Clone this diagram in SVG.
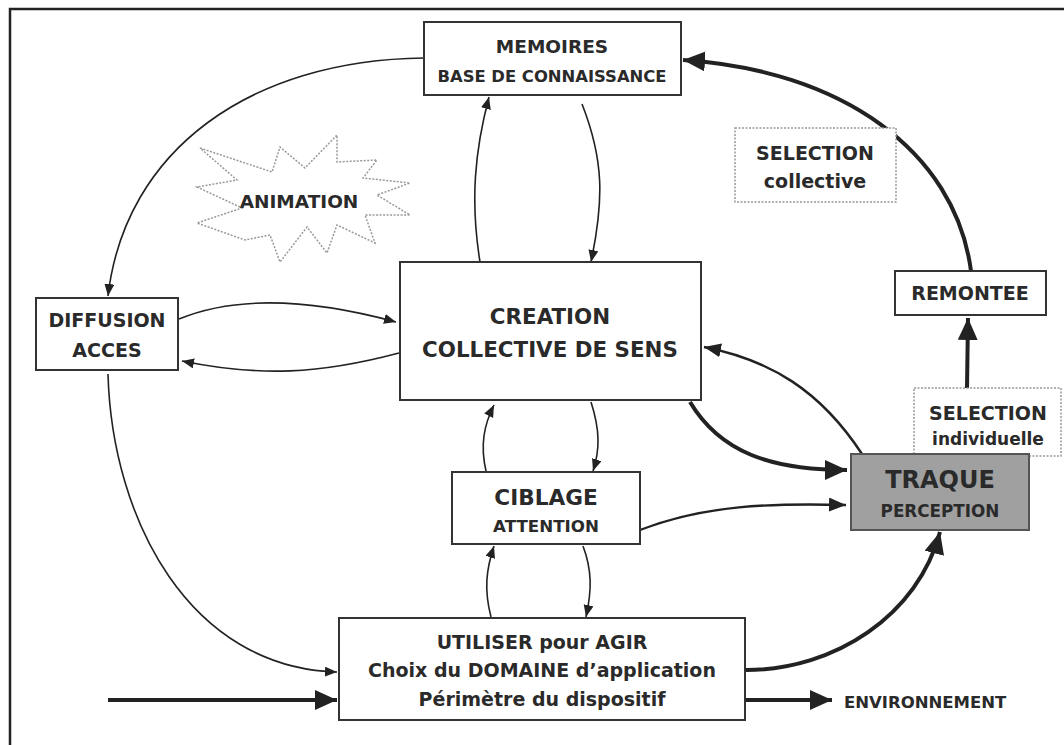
<svg xmlns="http://www.w3.org/2000/svg" width="1064" height="745" viewBox="0 0 1064 745">
<defs>
<style>
.box{fill:#fff;stroke:#333;stroke-width:2}
.dot{fill:#fff;stroke:#999;stroke-width:1.5;stroke-dasharray:2 1.5}
.t{font-family:"DejaVu Sans","Open Sans",sans-serif;font-weight:bold;fill:#2a2a2a;text-anchor:middle}
.thin{fill:none;stroke:#222;stroke-width:1.6;marker-end:url(#a)}
.med{fill:none;stroke:#222;stroke-width:2.4;marker-end:url(#a2)}
.thick{fill:none;stroke:#222;stroke-width:4;marker-end:url(#a3)}
</style>
<marker id="a" markerUnits="userSpaceOnUse" markerWidth="14" markerHeight="12" refX="12" refY="5" orient="auto"><path d="M0,0 L12,5 L0,10 Z" fill="#222"/></marker>
<marker id="a2" markerUnits="userSpaceOnUse" markerWidth="18" markerHeight="16" refX="17" refY="7" orient="auto"><path d="M0,0 L17,7 L0,14 Z" fill="#222"/></marker>
<marker id="a3" markerUnits="userSpaceOnUse" markerWidth="24" markerHeight="22" refX="22" refY="10" orient="auto"><path d="M0,0 L22,10 L0,20 Z" fill="#222"/></marker>
</defs>
<rect width="1064" height="745" fill="#fff"/>
<path d="M10,760 L10,9 L1070,9" fill="none" stroke="#222" stroke-width="2.5"/>

<g id="connectors">
<path class="thin" d="M424,58 C250,60 125,150 108,296"/>
<path class="thin" d="M179,319 C230,298 300,296 396,322"/>
<path class="thin" d="M399,353 C320,374 260,377 182,361"/>
<path class="thin" d="M582,104 C604,160 604,200 591,262"/>
<path class="thin" d="M480,262 C470,200 475,150 489,97"/>
<path class="thick" d="M971,271 C955,150 840,70 683,60"/>
<path class="thick" d="M967,388 L968,318"/>
<path class="thick" d="M690,402 C720,452 770,470 847,470"/>
<path class="med" d="M862,454 C820,390 770,360 704,347"/>
<path class="thin" d="M591,402 C600,430 600,450 593,471"/>
<path class="thin" d="M486,471 C480,445 484,425 494,405"/>
<path class="med" d="M640,530 C705,505 770,503 846,505"/>
<path class="thin" d="M491,617 C484,590 486,570 494,546"/>
<path class="thin" d="M583,546 C592,570 592,590 586,617"/>
<path class="thin" d="M108,374 C112,520 190,668 337,672"/>
<path class="thick" d="M108,700 L337,700"/>
<path class="thick" d="M746,670 C835,670 918,615 940,532"/>
<path class="thick" d="M746,700 L832,700"/>
</g>

<g id="animation">
<polygon points="200,148 272,172 280,147 305,168 337,135 337,162 377,160 363,178 410,183 377,195 410,215 365,215 375,243 337,225 327,253 307,227 280,262 270,235 245,240 197,223 242,208 197,187 237,180" fill="#fff" stroke="#999" stroke-width="1.5" stroke-dasharray="2 1.5"/>
<text class="t" x="299" y="208" font-size="18.5">ANIMATION</text>
</g>

<g id="memoires">
<rect class="box" x="424" y="22" width="257" height="73"/>
<text class="t" x="552" y="53" font-size="18.5">MEMOIRES</text>
<text class="t" x="552" y="82" font-size="16.4">BASE DE CONNAISSANCE</text>
</g>

<g id="selection-collective">
<rect class="dot" x="735" y="128" width="161" height="74"/>
<text class="t" x="815" y="160" font-size="19">SELECTION</text>
<text class="t" x="815" y="188" font-size="19">collective</text>
</g>

<g id="diffusion">
<rect class="box" x="36" y="298" width="142" height="72"/>
<text class="t" x="107" y="327" font-size="19">DIFFUSION</text>
<text class="t" x="107" y="357" font-size="19">ACCES</text>
</g>

<g id="creation">
<rect class="box" x="400" y="262" width="301" height="138"/>
<text class="t" x="550" y="324" font-size="21.4">CREATION</text>
<text class="t" x="550" y="357" font-size="21.4">COLLECTIVE DE SENS</text>
</g>

<g id="remontee">
<rect class="box" x="895" y="271" width="151" height="44"/>
<text class="t" x="970" y="300" font-size="19">REMONTEE</text>
</g>

<g id="selection-individuelle">
<rect class="dot" x="914" y="388" width="147" height="68"/>
<text class="t" x="988" y="420" font-size="19">SELECTION</text>
<text class="t" x="988" y="445" font-size="17">individuelle</text>
</g>

<g id="traque">
<rect x="851" y="454" width="178" height="76" fill="#a0a0a0" stroke="#555" stroke-width="2"/>
<text class="t" x="940" y="488" font-size="24">TRAQUE</text>
<text class="t" x="940" y="517" font-size="16.8">PERCEPTION</text>
</g>

<g id="ciblage">
<rect class="box" x="452" y="472" width="188" height="72"/>
<text class="t" x="546" y="505" font-size="21.6">CIBLAGE</text>
<text class="t" x="546" y="532" font-size="16.7">ATTENTION</text>
</g>

<g id="utiliser">
<rect class="box" x="339" y="618" width="406" height="102"/>
<text class="t" x="542" y="649" font-size="19">UTILISER pour AGIR</text>
<text class="t" x="542" y="677" font-size="19">Choix du DOMAINE d’application</text>
<text class="t" x="542" y="706" font-size="19">Périmètre du dispositif</text>
</g>

<g id="environnement">
<text class="t" x="844" y="708" font-size="16.5" style="text-anchor:start">ENVIRONNEMENT</text>
</g>
</svg>
